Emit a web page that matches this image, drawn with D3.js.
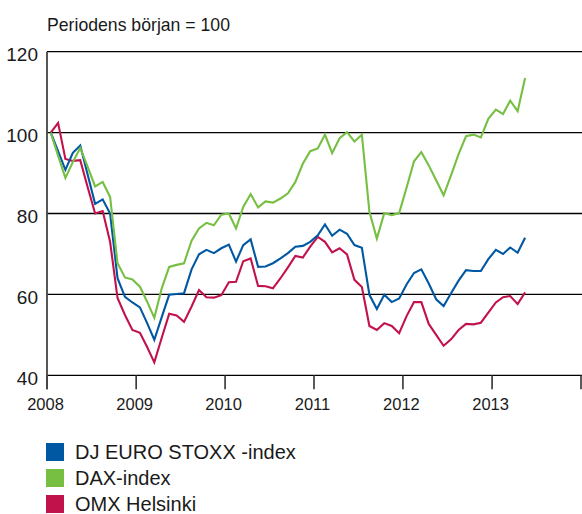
<!DOCTYPE html>
<html>
<head>
<meta charset="utf-8">
<script src="https://cdn.jsdelivr.net/npm/d3@7"></script>
<style>
    body { margin: 0; background: #fff; }
    text { font-family: "Liberation Sans", Arial, sans-serif; fill: #1a1a1a; }
</style>
</head>
<body>
<script>
// index values, monthly, Jan 2008 - May 2013 (start = 100)
var euroStoxx = [100, 95.4, 90.8, 95, 96.8, 89.6, 82.4, 83.5, 80, 64, 59.4, 58,
    56.8, 52.9, 48.8, 54.4, 59.9, 60.1, 60.3, 66.2, 69.9, 71, 70.2, 71.4,
    72.3, 68.1, 72.2, 73.6, 66.8, 66.9, 67.7, 68.9, 70.2, 71.8, 72, 73,
    74.6, 77.3, 74.5, 76, 75, 72.2, 71.5, 59.9, 56.4, 59.9, 58.1, 59,
    62.5, 65.3, 66.2, 62.7, 58.8, 57.1, 60.3, 63.4, 66, 65.8, 65.8, 68.7,
    71, 70, 71.6, 70.3, 74];
var dax = [100, 94.3, 88.8, 92.7, 96.2, 91.5, 86.7, 87.8, 84.1, 67.7, 64.2, 63.7,
    61.9, 58.2, 54.2, 61.5, 66.8, 67.3, 67.7, 73.3, 76.3, 77.7, 77.1, 79.7,
    80, 76.3, 81.6, 84.8, 81.5, 83, 82.7, 83.7, 85, 87.8, 92.3, 95.4,
    96.1, 99.5, 94.9, 98.6, 100.1, 97.8, 99.5, 80.4, 73.8, 80.1, 79.6, 80.1,
    86.5, 92.9, 95.2, 91.9, 88.2, 84.5, 89.4, 94.7, 99.1, 99.5, 98.8, 103.4,
    105.7, 104.6, 107.9, 105.3, 113.5];
var omx = [100, 102.4, 93.5, 93, 93.2, 86.5, 80, 80.6, 73, 59.1, 54.9, 51.2,
    50.5, 47, 43.2, 49.3, 55.2, 54.8, 53.2, 57, 61.1, 59.3, 59.2, 59.8,
    63, 63.1, 68.2, 68.9, 62.1, 62, 61.5, 64, 66.7, 69.5, 69.1, 71.8,
    74.2, 73, 70.4, 71.4, 69.9, 63.6, 61.8, 52.2, 51.2, 52.9, 52.2, 50.4,
    54.7, 58.1, 58.1, 52.7, 50, 47.3, 48.9, 51.2, 52.7, 52.6, 53, 55.5,
    58, 59.3, 59.6, 57.6, 60.5];

var seriesNames = ["DJ EURO STOXX -index", "DAX-index", "OMX Helsinki"];
var seriesColors = ["#0058a3", "#76bf43", "#c2124b"];
var yTicks = [40, 60, 80, 100, 120];
var yearTicks = [2008, 2009, 2010, 2011, 2012, 2013, 2014];
var titleText = "Periodens början = 100";

var months = d3.timeMonth.range(new Date(2008, 0, 1), new Date(2013, 5, 1));

var width = 582, height = 514;
var plotLeft = 47, plotRight = 581, plotTop = 51.7, plotBottom = 375.3;

var mySVG = d3.select("body")
    .append("svg")
    .attr("width", width)
    .attr("height", height);

var xScale = d3.scaleTime()
    .domain([new Date(2008, 0, 1), new Date(2014, 0, 1)])
    .range([plotLeft, plotRight]);
var yScale = d3.scaleLinear()
    .domain([40, 120])
    .range([plotBottom, plotTop]);

// middle of each month
function xMid(d) {
    return (xScale(d) + xScale(d3.timeMonth.offset(d, 1))) / 2;
}

mySVG.append("text")
    .attr("x", 47)
    .attr("y", 30.5)
    .attr("font-size", 19)
    .attr("textLength", 183)
    .attr("lengthAdjust", "spacingAndGlyphs")
    .text(titleText);

// gridlines
mySVG.selectAll(".grid")
    .data(yTicks)
    .enter()
    .append("line")
    .attr("class", "grid")
    .attr("x1", plotLeft)
    .attr("x2", width)
    .attr("y1", function (d) { return yScale(d); })
    .attr("y2", function (d) { return yScale(d); })
    .style("stroke", "#000")
    .style("stroke-width", 1.3);

mySVG.selectAll(".ylabel")
    .data(yTicks)
    .enter()
    .append("text")
    .attr("class", "ylabel")
    .attr("x", 38)
    .attr("y", function (d) { return yScale(d) + 9.7; })
    .attr("text-anchor", "end")
    .attr("font-size", 19)
    .text(function (d) { return d; });

// year ticks
mySVG.selectAll(".xtick")
    .data(yearTicks)
    .enter()
    .append("line")
    .attr("class", "xtick")
    .attr("x1", function (d) { return xScale(new Date(d, 0, 1)); })
    .attr("x2", function (d) { return xScale(new Date(d, 0, 1)); })
    .attr("y1", plotBottom)
    .attr("y2", plotBottom + 14)
    .style("stroke", "#333")
    .style("stroke-width", 1.6);

mySVG.selectAll(".xlabel")
    .data(yearTicks.slice(0, 6))
    .enter()
    .append("text")
    .attr("class", "xlabel")
    .attr("x", function (d) { return xScale(new Date(d, 0, 1)) - 1.5; })
    .attr("y", 409.5)
    .attr("text-anchor", "middle")
    .attr("font-size", 16.5)
    .text(function (d) { return d; });

// left axis
mySVG.append("line")
    .attr("x1", plotLeft)
    .attr("x2", plotLeft)
    .attr("y1", plotTop)
    .attr("y2", plotBottom + 14)
    .style("stroke", "#444")
    .style("stroke-width", 1.8);

var line = d3.line()
    .x(function (d, i) { return xMid(months[i]); })
    .y(function (d) { return yScale(d); });

var allSeries = [omx, euroStoxx, dax];
var drawColors = [seriesColors[2], seriesColors[0], seriesColors[1]];

mySVG.selectAll(".series")
    .data(allSeries)
    .enter()
    .append("path")
    .attr("class", "series")
    .attr("d", function (d) { return line(d); })
    .style("fill", "none")
    .style("stroke", function (d, i) { return drawColors[i]; })
    .style("stroke-width", 2.1)
    .style("stroke-linejoin", "miter");

// legend
var legend = mySVG.selectAll(".legend")
    .data(seriesNames)
    .enter()
    .append("g")
    .attr("class", "legend")
    .attr("transform", function (d, i) { return "translate(46," + (443 + i * 26) + ")"; });

legend.append("rect")
    .attr("width", 18)
    .attr("height", 18)
    .style("fill", function (d, i) { return seriesColors[i]; });

legend.append("text")
    .attr("x", 29)
    .attr("y", 16.3)
    .attr("font-size", 20)
    .text(function (d) { return d; });
</script>
</body>
</html>
